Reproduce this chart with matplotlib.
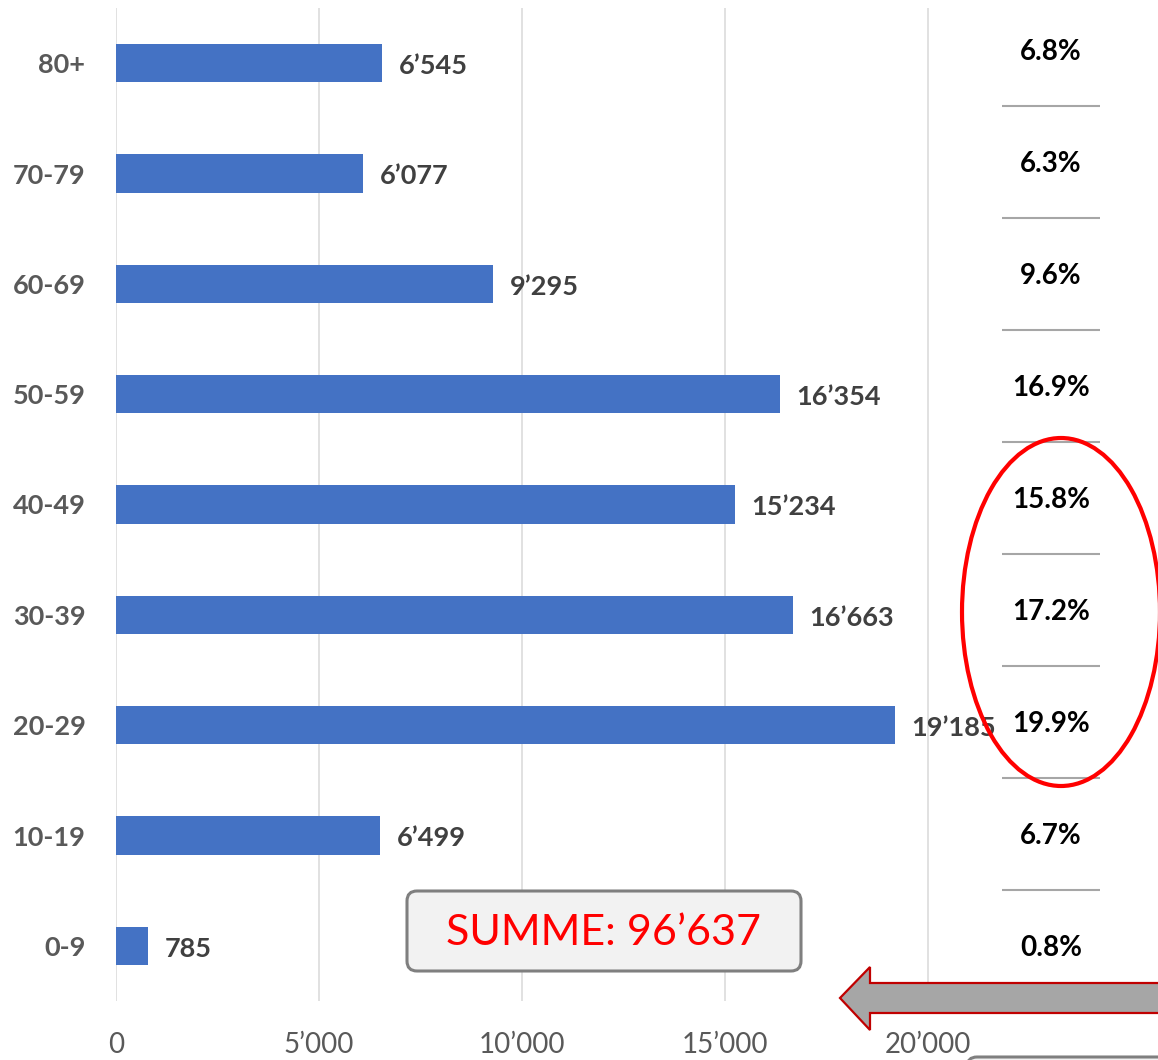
import matplotlib
matplotlib.use("Agg")
import matplotlib.pyplot as plt
from matplotlib.patches import Ellipse, FancyBboxPatch, Polygon
from matplotlib.ticker import FuncFormatter

plt.rcParams['font.family'] = ['Lato', 'DejaVu Sans']

# data
age_groups = ['0-9', '10-19', '20-29', '30-39', '40-49', '50-59', '60-69', '70-79', '80+']
cases = [785, 6499, 19185, 16663, 15234, 16354, 9295, 6077, 6545]
shares = [0.8, 6.7, 19.9, 17.2, 15.8, 16.9, 9.6, 6.3, 6.8]
x_ticks = [0, 5000, 10000, 15000, 20000]
total = 96637

W, H, DPI = 1158, 1060, 100


def fmt(v):
    return f"{int(v):,}".replace(",", "\u2019")


def px(x, y):
    # pixel position (from top-left) -> inches for dpi_scale_trans
    return x / DPI, (H - y) / DPI


fig = plt.figure(figsize=(W / DPI, H / DPI), dpi=DPI)

# main bar chart
ax = fig.add_axes([116 / W, (H - 1001) / H, (1131 - 116) / W, 993 / H])
ypos = list(range(len(age_groups)))
ax.barh(ypos, cases, height=0.345, color='#4472C4', zorder=2)
for y, v in zip(ypos, cases):
    ax.annotate(fmt(v), (v, y), xytext=(12, -2), textcoords='offset points',
                ha='left', va='center', fontsize=19.5, fontweight='bold', color='#404040')

ax.set_xlim(0, 25000)
ax.set_ylim(-0.5, 8.5)
ax.set_xticks(x_ticks)
ax.xaxis.set_major_formatter(FuncFormatter(lambda v, p: fmt(v)))
ax.set_yticks(ypos)
ax.set_yticklabels(age_groups)
ax.grid(axis='x', color='#D9D9D9', linewidth=1.1, zorder=0)
for s in ax.spines.values():
    s.set_visible(False)
ax.tick_params(axis='x', length=0, pad=22, labelsize=20, labelcolor='#595959')
ax.tick_params(axis='y', length=0, pad=22, labelsize=19.5, labelcolor='#595959')
for lab in ax.get_yticklabels():
    lab.set_fontweight('bold')

# percentage column on the right
tab = fig.add_axes([1002 / W, (H - 1002) / H, 98 / W, 1008 / H])
tab.set_xlim(0, 1)
tab.set_ylim(-0.5, 8.5)
tab.axis('off')
tab.patch.set_alpha(0)
for y, s in zip(ypos, shares):
    tab.text(0.5, y - 0.02, f"{s:.1f}%", ha='center', va='center',
             fontsize=20, fontweight='bold', color='black')
for y in ypos[:-1]:
    tab.plot([0, 1], [y + 0.5, y + 0.5], color='#A6A6A6', linewidth=1.5)

# sum box
box = FancyBboxPatch(px(407, 971), (801 - 407) / DPI, (971 - 891) / DPI,
                     boxstyle='round,pad=0,rounding_size=0.1',
                     transform=fig.dpi_scale_trans, facecolor='#F2F2F2',
                     edgecolor='#7F7F7F', linewidth=2.2, zorder=5)
fig.add_artist(box)
fig.text(603 / W, (H - 933) / H, 'SUMME: ' + fmt(total), ha='center', va='center',
         fontsize=31, color='#FF0000', zorder=6)

# block arrow pointing left
arrow_pts = [px(840, 998), px(870, 967), px(870, 983), px(1180, 983),
             px(1180, 1013), px(870, 1013), px(870, 1030)]
fig.add_artist(Polygon(arrow_pts, closed=True, transform=fig.dpi_scale_trans,
                       facecolor='#A6A6A6', edgecolor='#C00000', linewidth=1.6, zorder=5))

# partly visible box at bottom right
fig.add_artist(FancyBboxPatch(px(967, 1120), 3.0, 0.63,
                              boxstyle='round,pad=0,rounding_size=0.1',
                              transform=fig.dpi_scale_trans, facecolor='#F2F2F2',
                              edgecolor='#7F7F7F', linewidth=2.2, zorder=5))

# red ellipse around the 20-49 shares
fig.add_artist(Ellipse(px(1061, 612), 198 / DPI, 348 / DPI, transform=fig.dpi_scale_trans,
                       fill=False, edgecolor='#FF0000', linewidth=3, zorder=7))

fig.savefig('out.png', dpi=DPI)
